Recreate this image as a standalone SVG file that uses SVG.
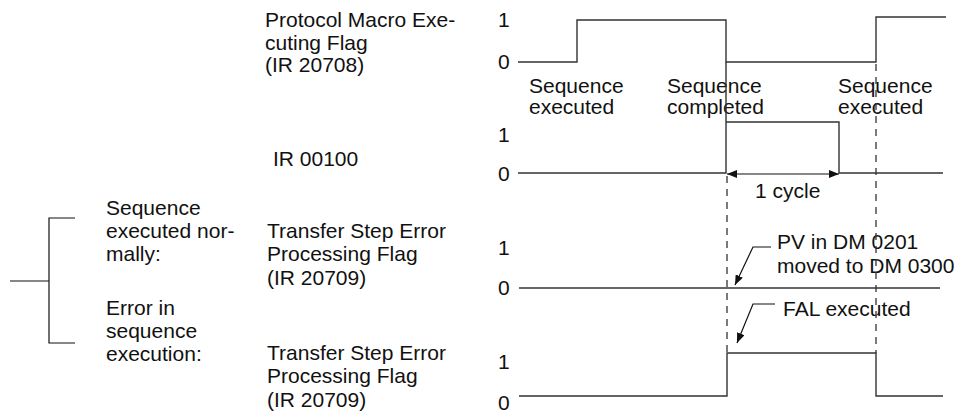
<svg xmlns="http://www.w3.org/2000/svg" width="958" height="413" viewBox="0 0 958 413">
<defs>
<style>
text{font-family:"Liberation Sans",Arial,sans-serif;font-size:21px;fill:#111}
.w{fill:none;stroke:#333;stroke-width:1.4}
.d{fill:none;stroke:#333;stroke-width:1.3;stroke-dasharray:7 6}
.l{fill:none;stroke:#111;stroke-width:1.2}
</style>
<marker id="ah" viewBox="0 0 10 8" refX="10" refY="4" markerWidth="10" markerHeight="8" markerUnits="userSpaceOnUse" orient="auto">
<path d="M0,0 L10,4 L0,8 z" fill="#111"/>
</marker>
</defs>
<rect width="958" height="413" fill="#fff"/>
<g id="left-bracket">
<path class="l" d="M75,218 H49 V343 H75 M10,281 H49"/>
<text x="106" y="215">Sequence</text>
<text x="106" y="238">executed nor-</text>
<text x="106" y="261">mally:</text>
<text x="106" y="315">Error in</text>
<text x="106" y="338">sequence</text>
<text x="106" y="361">execution:</text>
</g>
<g id="sig-executing">
<text x="265" y="27">Protocol Macro Exe-</text>
<text x="265" y="50">cuting Flag</text>
<text x="265" y="72">(IR 20708)</text>
<text x="498" y="27">1</text>
<text x="498" y="69">0</text>
<path class="w" d="M518,62 H577 V20 H726 V62 H876 V17 H946"/>
<text x="529" y="93">Sequence</text>
<text x="529" y="114">executed</text>
<text x="667" y="93">Sequence</text>
<text x="667" y="114">completed</text>
<text x="838" y="93">Sequence</text>
<text x="838" y="114">executed</text>
</g>
<g id="sig-ir00100">
<text x="273" y="166">IR 00100</text>
<text x="498" y="142">1</text>
<text x="498" y="181">0</text>
<path class="w" d="M518,173 H726 V62 M726,122 H839 V173 H943"/>
<text x="755" y="198">1 cycle</text>
</g>
<g id="sig-normal">
<text x="267" y="238">Transfer Step Error</text>
<text x="267" y="261">Processing Flag</text>
<text x="267" y="285">(IR 20709)</text>
<text x="498" y="255">1</text>
<text x="498" y="295">0</text>
<path class="w" d="M519,288 H940"/>
<text x="777" y="249">PV in DM 0201</text>
<text x="777" y="273">moved to DM 0300</text>
</g>
<g id="sig-error">
<text x="267" y="360">Transfer Step Error</text>
<text x="267" y="383">Processing Flag</text>
<text x="267" y="407">(IR 20709)</text>
<text x="498" y="369">1</text>
<text x="498" y="410">0</text>
<path class="w" d="M519,396 H727 V353 H876 V396 H943"/>
<text x="783" y="316">FAL executed</text>
</g>
<g id="connectors">
<path class="d" d="M727,176 V353"/>
<path class="d" d="M876,64 V353"/>
<path class="l" d="M782,174 H727" marker-end="url(#ah)"/>
<path class="l" d="M782,174 H839" marker-end="url(#ah)"/>
<path class="l" d="M771,247 H753 L735,285" marker-end="url(#ah)"/>
<path class="l" d="M775,304 H753 L737,343" marker-end="url(#ah)"/>
</g>
</svg>
